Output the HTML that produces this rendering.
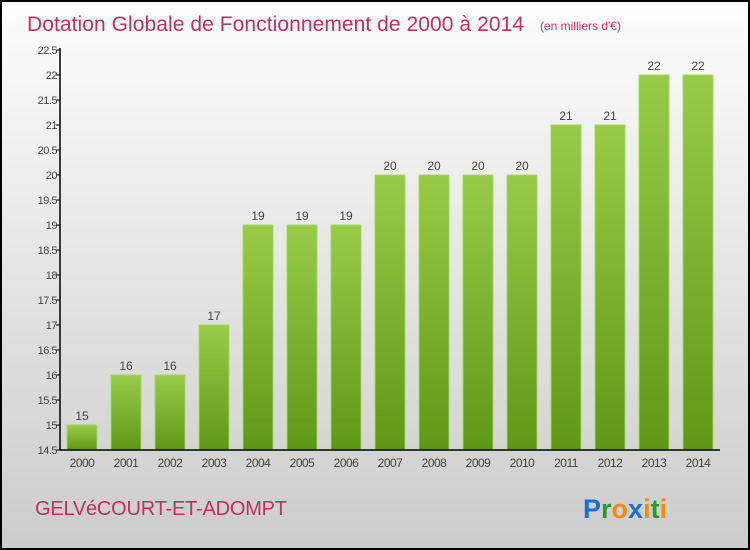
<!DOCTYPE html>
<html><head><meta charset="utf-8"><style>
body{margin:0}
svg{display:block;font-family:"Liberation Sans",sans-serif}
</style></head><body>
<svg width="750" height="550" viewBox="0 0 750 550">
<defs>
<linearGradient id="bg" x1="0" y1="0" x2="0" y2="1"><stop offset="0" stop-color="#fdfdfd"/><stop offset="1" stop-color="#cccccc"/></linearGradient>
<linearGradient id="bar" x1="0" y1="0" x2="0" y2="1"><stop offset="0" stop-color="#98cc48"/><stop offset="1" stop-color="#5f9716"/></linearGradient>
</defs>
<rect x="1" y="1" width="748" height="548" fill="url(#bg)" stroke="#000" stroke-width="2"/>
<text x="27" y="31" font-size="21" fill="#c0305f" textLength="497">Dotation Globale de Fonctionnement de 2000 à 2014</text>
<text x="540" y="30" font-size="12" fill="#c0305f">(en milliers d'€)</text>
<g id="plot"></g>
<text x="35" y="515" font-size="20" fill="#c0305f" textLength="252">GELVéCOURT-ET-ADOMPT</text>
<text x="583" y="518" font-size="27" font-weight="bold"><tspan fill="#1a6fd0">P</tspan><tspan fill="#2a9a2a">r</tspan><tspan fill="#f08a10">o</tspan><tspan fill="#1a6fd0">x</tspan><tspan fill="#f08a10">i</tspan><tspan fill="#2a9a2a">t</tspan><tspan fill="#f08a10">i</tspan></text>
</svg>
<script>
const years=["2000","2001","2002","2003","2004","2005","2006","2007","2008","2009","2010","2011","2012","2013","2014"];
const values=[15,16,16,17,19,19,19,20,20,20,20,21,21,22,22];
const yTicks=[14.5,15,15.5,16,16.5,17,17.5,18,18.5,19,19.5,20,20.5,21,21.5,22,22.5];
const NS="http://www.w3.org/2000/svg";
const g=document.getElementById('plot');
const yMin=14.5,yMax=22.5,yTop=50,yBot=450,xLeft=60,xRight=720;
const y=v=>yBot-(v-yMin)/(yMax-yMin)*(yBot-yTop);
const step=44,bw=30;
const x=i=>67+i*step;
function mk(t,a){const e=document.createElementNS(NS,t);for(const k in a)e.setAttribute(k,a[k]);g.appendChild(e);return e;}
yTicks.forEach(t=>{
 const l=mk('line',{x1:xLeft-4,x2:xLeft,y1:y(t),y2:y(t),stroke:'#000'});
 
 
 const tx=mk('text',{x:xLeft-3,y:y(t)+4,'font-size':11,'text-anchor':'end',fill:'#444','letter-spacing':'-0.5'});
 tx.textContent=String(t);
 
 
});
values.forEach((v,i)=>{
 const r=mk('rect',{x:x(i),y:y(v),width:bw,height:yBot-y(v),fill:'url(#bar)',stroke:'#a6d860','stroke-width':1});
 
 
 const lb=mk('text',{x:x(i)+bw/2,y:y(v)-5,'font-size':12,'text-anchor':'middle',fill:'#444'});
 lb.textContent=Math.round(v);
 
 
 const xl=mk('text',{x:x(i)+bw/2,y:467,'font-size':12,'text-anchor':'middle',fill:'#444','letter-spacing':'-0.5'});
 xl.textContent=years[i];
 
 
});
const ya=mk('line',{x1:xLeft,x2:xLeft,y1:yTop-2,y2:yBot,stroke:'#000','stroke-width':1.5});


const xa=mk('line',{x1:xLeft,x2:xRight,y1:yBot,y2:yBot,stroke:'#000','stroke-width':1.5});


</script>
</body></html>
